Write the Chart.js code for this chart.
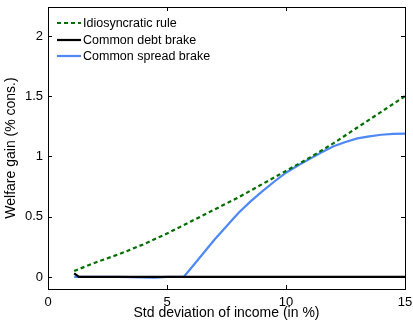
<!DOCTYPE html>
<html>
<head>
<meta charset="utf-8">
<script src="https://cdn.jsdelivr.net/npm/chart.js@4.4.1/dist/chart.umd.min.js"></script>
<style>
html,body{margin:0;padding:0;background:#fff;}
#wrap{width:413px;height:322px;position:relative;}
</style>
</head>
<body>
<div id="wrap"><canvas id="c" width="413" height="322"></canvas></div>
<script>
// ---- data ----
const seriesLabels = ["Idiosyncratic rule", "Common debt brake", "Common spread brake"];
const idioX = [1.1, 2, 3, 4, 5, 6, 7, 8, 9, 10, 11, 12, 13, 14, 15];
const idioY = [0.05, 0.12, 0.19, 0.27, 0.36, 0.46, 0.56, 0.66, 0.77, 0.88, 0.99, 1.11, 1.24, 1.37, 1.50];
const debtX = [1.1, 1.3, 2, 5, 10, 15];
const debtY = [0.03, 0, 0, 0, 0, 0];
const spreadX = [1.1, 2, 3, 4, 4.5, 5, 5.7, 6, 6.5, 7, 7.5, 8, 8.5, 9, 9.5, 10, 10.5, 11, 11.5, 12, 12.5, 13, 13.5, 14, 14.5, 15];
const spreadY = [0, 0, 0, -0.003, -0.005, 0, 0, 0.07, 0.19, 0.31, 0.42, 0.53, 0.625, 0.71, 0.79, 0.865, 0.925, 0.98, 1.035, 1.085, 1.12, 1.15, 1.167, 1.18, 1.187, 1.19];
const xTicks = [0, 5, 10, 15];
const yTicks = [0, 0.5, 1, 1.5, 2];
const xTitle = "Std deviation of income (in %)";
const yTitle = "Welfare gain (% cons.)";

const pts = (xs, ys) => xs.map((x, i) => ({x: x, y: ys[i]}));
const FONT = "'Liberation Sans', Arial, Helvetica, sans-serif";

const frame = {
  id: 'frame',
  afterDraw(chart) {
    const ctx = chart.ctx, a = chart.chartArea;
    const xs = chart.scales.x, ys = chart.scales.y;
    ctx.save();
    ctx.strokeStyle = '#000';
    ctx.lineWidth = 1;
    ctx.strokeRect(Math.round(a.left) + 0.5, Math.round(a.top) + 0.5,
                   Math.round(a.right - a.left), Math.round(a.bottom - a.top));
    ctx.beginPath();
    const tl = 4;
    xTicks.forEach(v => {
      const px = Math.round(xs.getPixelForValue(v)) + 0.5;
      ctx.moveTo(px, a.bottom); ctx.lineTo(px, a.bottom - tl);
      ctx.moveTo(px, a.top); ctx.lineTo(px, a.top + tl);
    });
    yTicks.forEach(v => {
      const py = Math.round(ys.getPixelForValue(v)) + 0.5;
      ctx.moveTo(a.left, py); ctx.lineTo(a.left + tl, py);
      ctx.moveTo(a.right, py); ctx.lineTo(a.right - tl, py);
    });
    ctx.stroke();
    // legend
    ctx.font = '12.5px ' + FONT;
    ctx.textBaseline = 'middle';
    ctx.fillStyle = '#000';
    const rows = [23, 40, 56];
    chart.data.datasets.forEach((ds, i) => {
      const y = rows[i];
      ctx.beginPath();
      ctx.strokeStyle = ds.borderColor;
      ctx.lineWidth = ds.borderWidth;
      ctx.setLineDash(ds.borderDash || []);
      ctx.moveTo(57, y); ctx.lineTo(81, y);
      ctx.stroke();
      ctx.setLineDash([]);
      ctx.fillText(ds.label, 83, y + 0.5);
    });
    ctx.restore();
  }
};

new Chart(document.getElementById('c'), {
  type: 'line',
  data: {
    datasets: [
      {label: seriesLabels[0], data: pts(idioX, idioY), borderColor: '#006e00', borderWidth: 2.2, borderDash: [4, 3], pointRadius: 0, fill: false, tension: 0},
      {label: seriesLabels[1], data: pts(debtX, debtY), borderColor: '#000000', borderWidth: 2.2, pointRadius: 0, fill: false, tension: 0},
      {label: seriesLabels[2], data: pts(spreadX, spreadY), borderColor: '#4d88f5', borderWidth: 2.2, pointRadius: 0, fill: false, tension: 0}
    ]
  },
  options: {
    responsive: false,
    animation: false,
    layout: {padding: {top: 7, right: 8, left: 0, bottom: 0}},
    plugins: {legend: {display: false}, tooltip: {enabled: false}},
    scales: {
      x: {
        type: 'linear', min: 0, max: 15,
        grid: {display: false, drawTicks: false},
        border: {display: false},
        afterBuildTicks: s => { s.ticks = xTicks.map(v => ({value: v})); },
        afterFit: s => { s.height = 33; s.paddingLeft = 0; s.paddingRight = 0; },
        ticks: {color: '#000', font: {family: FONT, size: 13}, padding: 6, maxRotation: 0, callback: v => String(v)},
        title: {display: true, text: xTitle, color: '#000', font: {family: FONT, size: 14}, padding: {top: 2, bottom: 0}}
      },
      y: {
        type: 'linear', min: -0.1, max: 2.24,
        grid: {display: false, drawTicks: false},
        border: {display: false},
        afterBuildTicks: s => { s.ticks = yTicks.map(v => ({value: v})); },
        afterFit: s => { s.width = 48; s.paddingTop = 0; s.paddingBottom = 0; },
        ticks: {color: '#000', font: {family: FONT, size: 13}, padding: 5, callback: v => String(v)},
        title: {display: true, text: yTitle, color: '#000', font: {family: FONT, size: 14}, padding: {top: 3, bottom: 0}}
      }
    }
  },
  plugins: [frame]
});
</script>
</body>
</html>
